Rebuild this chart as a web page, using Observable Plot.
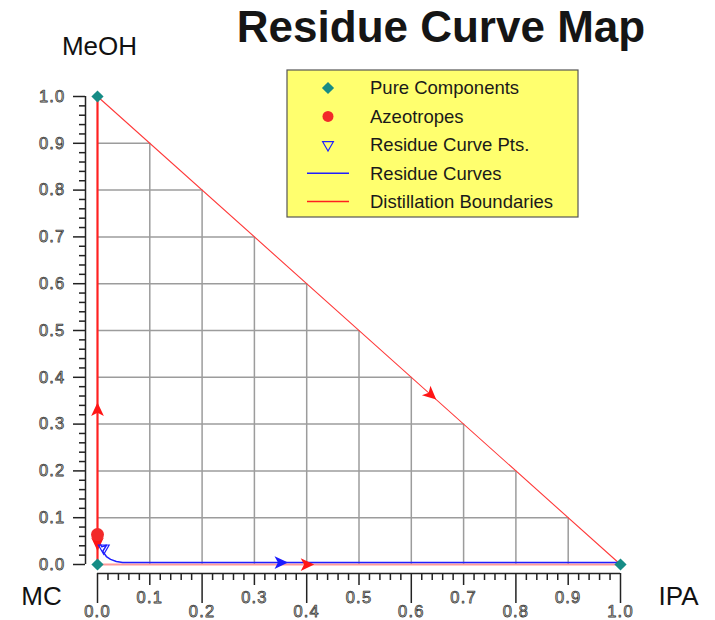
<!DOCTYPE html>
<html><head><meta charset="utf-8">
<script src="https://cdn.jsdelivr.net/npm/d3@7"></script>
<script src="https://cdn.jsdelivr.net/npm/@observablehq/plot@0.6"></script>
<style>
html,body{margin:0;padding:0;background:#fff;}
#chart{position:relative;width:715px;height:620px;}
g.ticklab text{letter-spacing:1.2px;}
</style></head><body><div id="chart"></div>
<script>
// ---- data ----
const titleText = "Residue Curve Map";
const pureNames = ["MeOH", "MC", "IPA"];
const pureX = [0, 0, 1];
const pureY = [1, 0, 0];

const azeoX = [0];
const azeoY = [0.064];

const residueX = [0.003, 0.008, 0.017, 0.010, 0.017, 0.025, 0.036, 0.048, 0.10, 0.40, 0.70, 1.0];
const residueY = [0.049, 0.038, 0.041, 0.028, 0.017, 0.011, 0.0065, 0.0045, 0.0042, 0.0042, 0.0042, 0.0042];

const rcPtX = [0.012];
const rcPtY = [0.035];

const boundaryNames = ["MeOH-IPA", "MC-MeOH", "MC-IPA"];
const boundaryX = [[0, 1], [0, 0], [0, 1]];
const boundaryY = [[1, 0], [0, 1], [0, 0]];

const arrowSeries = ["boundary", "boundary", "boundary", "boundary", "residue"];
const arrowX  = [0, 0, 0.637, 0.40, 0.35];
const arrowY  = [0.33, 0.045, 0.363, 0, 0.0042];
const arrowDX = [0, 0, 1, 1, 1];
const arrowDY = [1, -1, -1, 0, 0];

const gridVals = [0.1, 0.2, 0.3, 0.4, 0.5, 0.6, 0.7, 0.8, 0.9];
const yMajor = [0, 0.1, 0.2, 0.3, 0.4, 0.5, 0.6, 0.7, 0.8, 0.9, 1.0];
const xUpperLabels = [0.1, 0.3, 0.5, 0.7, 0.9];
const xLowerLabels = [0, 0.2, 0.4, 0.6, 0.8, 1.0];

const legendLabels = ["Pure Components", "Azeotropes", "Residue Curve Pts.", "Residue Curves", "Distillation Boundaries"];

// ---- layout ----
const W = 715, H = 620, ML = 97, MR = 95, MT = 96, MB = 56;
const kx = W - ML - MR, ky = H - MT - MB;
const minor = d3.range(0, 51).map(i => i * 0.02).filter(v => Math.abs(v * 10 - Math.round(v * 10)) > 1e-6);

const pure = pureX.map((x, i) => ({name: pureNames[i], x, y: pureY[i]}));
const azeo = azeoX.map((x, i) => ({x, y: azeoY[i]}));
const residue = residueX.map((x, i) => ({x, y: residueY[i]}));
const rcPts = rcPtX.map((x, i) => ({x, y: rcPtY[i]}));
const arrows = arrowX.map((x, i) => ({
  series: arrowSeries[i], x, y: arrowY[i],
  rot: Math.atan2(arrowDX[i] * kx, arrowDY[i] * ky) * 180 / Math.PI
}));

const boundaryStyle = [
  {stroke: "#ff3a3a", strokeWidth: 1.1},
  {stroke: "#ff2020", strokeWidth: 2.2},
  {stroke: "#ff9a9a", strokeWidth: 2}
];

const arrowSymbol = {
  draw(ctx, size) {
    const r = Math.sqrt(size / Math.PI);
    ctx.moveTo(0, -1.0 * r);
    ctx.lineTo(0.85 * r, 0.8 * r);
    ctx.lineTo(0, 0.35 * r);
    ctx.lineTo(-0.85 * r, 0.8 * r);
    ctx.closePath();
  }
};

const FONT = "Liberation Sans, Arial, sans-serif";
const axisColor = "#222";
const labelStyle = {fontSize: 16.5, fill: "#d4d4cc", stroke: "#333", strokeWidth: 0.75, paintOrder: "normal", fontFamily: FONT, className: "ticklab"};
const noText = () => "";
const tickOpts = {stroke: axisColor, strokeWidth: 1.5, tickFormat: noText, label: null};

const marks = [
  Plot.ruleX(gridVals, {x: d => d, y1: 0, y2: d => 1 - d, stroke: "#9c9c9c", strokeWidth: 1.5}),
  Plot.ruleY(gridVals, {y: d => d, x1: 0, x2: d => 1 - d, stroke: "#9c9c9c", strokeWidth: 1.5}),
  ...boundaryX.map((bx, i) => Plot.line(bx.map((x, j) => ({x, y: boundaryY[i][j]})), {x: "x", y: "y", ...boundaryStyle[i]})),
  Plot.line(residue, {x: "x", y: "y", stroke: "#1e1eff", strokeWidth: 1.5}),
  Plot.dot(arrows.filter(d => d.series === "boundary"), {x: "x", y: "y", rotate: "rot", symbol: arrowSymbol, r: 7.5, fill: "#ff1515"}),
  Plot.dot(arrows.filter(d => d.series === "residue"), {x: "x", y: "y", rotate: "rot", symbol: arrowSymbol, r: 7.5, fill: "#1a1aff"}),
  Plot.dot(azeo, {x: "x", y: "y", symbol: "circle", r: 6.5, fill: "#f22a2a"}),
  Plot.dot(rcPts, {x: "x", y: "y", symbol: "triangle", rotate: 180, r: 4, fill: "none", stroke: "#2020ff", strokeWidth: 1.2}),
  Plot.dot(pure, {x: "x", y: "y", symbol: "diamond2", r: 5.5, fill: "#168c86"}),
  // axes
  Plot.ruleX([0], {y1: 0, y2: 1, dx: -12, stroke: axisColor, strokeWidth: 1.5}),
  Plot.ruleY([0], {x1: 0, x2: 1, dy: 9, stroke: axisColor, strokeWidth: 1.5}),
  Plot.axisY(minor, {anchor: "left", tickSize: 6, dx: -12, ...tickOpts}),
  Plot.axisY(yMajor, {anchor: "left", tickSize: 12, dx: -12, ...tickOpts}),
  Plot.axisX(minor, {anchor: "bottom", tickSize: 7, dy: 9, ...tickOpts}),
  Plot.axisX(xUpperLabels, {anchor: "bottom", tickSize: 12, dy: 9, ...tickOpts}),
  Plot.axisX(xLowerLabels, {anchor: "bottom", tickSize: 30, dy: 9, ...tickOpts}),
  Plot.text(yMajor, {y: d => d, frameAnchor: "left", dx: -32, textAnchor: "end", text: d => d.toFixed(1), ...labelStyle}),
  Plot.text(xUpperLabels, {x: d => d, frameAnchor: "bottom", dy: 27, lineAnchor: "top", text: d => d.toFixed(1), ...labelStyle}),
  Plot.text(xLowerLabels, {x: d => d, frameAnchor: "bottom", dy: 41, lineAnchor: "top", text: d => d.toFixed(1), ...labelStyle}),
  // component corner labels
  Plot.text(pure.filter(d => d.name === "MeOH"), {x: "x", y: "y", text: "name", dx: 2, dy: -50, fontSize: 26, fill: "#111", fontFamily: FONT}),
  Plot.text(pure.filter(d => d.name === "MC"), {x: "x", y: "y", text: "name", dx: -56, dy: 32, fontSize: 26, fill: "#111", fontFamily: FONT}),
  Plot.text(pure.filter(d => d.name === "IPA"), {x: "x", y: "y", text: "name", dx: 58, dy: 32, fontSize: 26, fill: "#111", fontFamily: FONT})
];

const svg = Plot.plot({
  width: W, height: H,
  marginLeft: ML, marginRight: MR, marginTop: MT, marginBottom: MB,
  style: {fontFamily: FONT, background: "#fff", overflow: "visible"},
  x: {domain: [0, 1], axis: null},
  y: {domain: [0, 1], axis: null},
  marks
});

const s = d3.select(svg);
// title
s.append("text").attr("x", 441).attr("y", 42).attr("text-anchor", "middle")
  .attr("font-family", FONT).attr("font-size", 44).attr("font-weight", "bold")
  .attr("fill", "#151515").text(titleText);

// legend
const lg = s.append("g").attr("text-anchor", "start");
lg.append("rect").attr("x", 287).attr("y", 70).attr("width", 291).attr("height", 147)
  .attr("fill", "#ffff6e").attr("stroke", "#555").attr("stroke-width", 1.2);
const rowY = i => 88 + i * 28.4;
const sx = 328;
lg.append("path").attr("d", d3.symbol(d3.symbolDiamond2, 95)()).attr("transform", `translate(${sx},${rowY(0)})`).attr("fill", "#168c86");
lg.append("circle").attr("cx", sx).attr("cy", rowY(1)).attr("r", 5.5).attr("fill", "#f22a2a");
lg.append("path").attr("d", d3.symbol(d3.symbolTriangle, 50)()).attr("transform", `translate(${sx},${rowY(2)}) rotate(180)`).attr("fill", "none").attr("stroke", "#2020ff").attr("stroke-width", 1.2);
lg.append("line").attr("x1", 307).attr("x2", 349).attr("y1", rowY(3)).attr("y2", rowY(3)).attr("stroke", "#1e1eff").attr("stroke-width", 1.5);
lg.append("line").attr("x1", 307).attr("x2", 349).attr("y1", rowY(4)).attr("y2", rowY(4)).attr("stroke", "#ff2020").attr("stroke-width", 1.5);
legendLabels.forEach((t, i) => {
  lg.append("text").attr("x", 370).attr("y", rowY(i)).attr("dy", "0.35em").attr("text-anchor", "start")
    .attr("font-family", FONT).attr("font-size", 18.5).attr("fill", "#1a1a1a").text(t);
});

document.getElementById("chart").appendChild(svg);
</script>
</body></html>
